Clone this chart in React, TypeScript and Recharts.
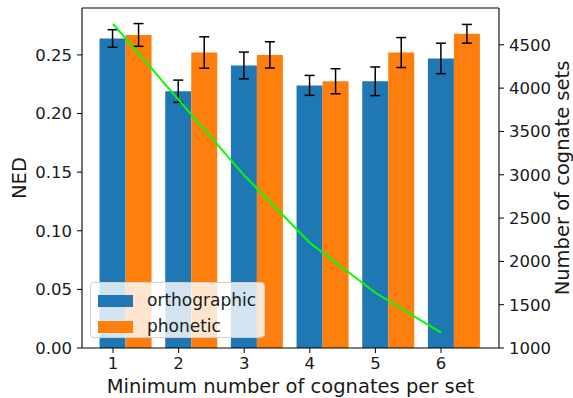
import React from 'react';
import {
  ComposedChart,
  Bar,
  Line,
  XAxis,
  YAxis,
  ErrorBar,
  Legend,
  ReferenceLine,
} from 'recharts';

// minimum number of cognates per set
const minCognates = [1, 2, 3, 4, 5, 6];
// mean NED and error, orthographic vs phonetic
const orthoNED = [0.264, 0.219, 0.241, 0.224, 0.2275, 0.247];
const orthoErr = [0.0075, 0.0095, 0.0114, 0.0085, 0.0122, 0.013];
const phonNED = [0.267, 0.252, 0.25, 0.2275, 0.252, 0.268];
const phonErr = [0.0097, 0.0134, 0.0112, 0.0107, 0.0128, 0.008];
// number of cognate sets (right axis)
const cognateSets = [4742, 3864, 2992, 2215, 1638, 1177];

const nedTicks = [0, 0.05, 0.1, 0.15, 0.2, 0.25];
const setTicks = [1000, 1500, 2000, 2500, 3000, 3500, 4000, 4500];

const series = [
  { key: 'ortho', name: 'orthographic', color: '#1f77b4' },
  { key: 'phon', name: 'phonetic', color: '#ff7f0e' },
];

const data = minCognates.map((x, i) => ({
  k: String(x),
  x,
  ortho: orthoNED[i],
  orthoErr: orthoErr[i],
  phon: phonNED[i],
  phonErr: phonErr[i],
  sets: cognateSets[i],
}));

const FONT = 'DejaVu Sans';
const tickStyle = { fontSize: 16.5, fill: '#1a1a1a', fontFamily: FONT };
const labelStyle = { fontSize: 19.5, fill: '#1a1a1a', fontFamily: FONT };

function LegendBox() {
  return (
    <div
      style={{
        width: 175,
        height: 56,
        boxSizing: 'border-box',
        background: 'rgba(255,255,255,0.8)',
        border: '1px solid #d0d0d0',
        borderRadius: 4,
        padding: '4px 0 0 7px',
        fontFamily: FONT,
        fontSize: 17,
        color: '#1a1a1a',
      }}
    >
      {series.map((s) => (
        <div key={s.key} style={{ display: 'flex', alignItems: 'center', height: 26 }}>
          <span style={{ width: 35, height: 12, background: s.color, marginRight: 14, marginTop: 2 }} />
          <span>{s.name}</span>
        </div>
      ))}
    </div>
  );
}

export default function App() {
  return (
    <div style={{ position: 'absolute', left: 0, top: 0, background: '#fff' }}>
      <ComposedChart
        width={573}
        height={398}
        data={data}
        margin={{ top: 8, right: 0, left: 0, bottom: 0 }}
        barCategoryGap="10%"
        barGap={0}
        style={{ fontFamily: FONT }}
      >
        <XAxis
          xAxisId="num"
          dataKey="x"
          type="number"
          domain={[0.527, 6.884]}
          allowDataOverflow
          ticks={minCognates}
          height={50}
          tickSize={5}
          tickMargin={4}
          tick={tickStyle}
          axisLine={{ stroke: '#000', strokeWidth: 1.1 }}
          tickLine={{ stroke: '#000' }}
          label={{
            value: 'Minimum number of cognates per set',
            position: 'insideBottom',
            offset: 5,
            style: labelStyle,
          }}
        />
        <XAxis
          xAxisId="cat"
          dataKey="k"
          type="category"
          orientation="top"
          height={0}
          hide
          padding={{ left: 11, right: 12 }}
        />
        <YAxis
          yAxisId="left"
          domain={[0, 0.29]}
          allowDataOverflow
          ticks={nedTicks}
          tickFormatter={(v) => v.toFixed(2)}
          width={82}
          tickSize={5}
          tickMargin={5}
          tick={tickStyle}
          axisLine={{ stroke: '#000', strokeWidth: 1.1 }}
          tickLine={{ stroke: '#000' }}
          label={{
            value: 'NED',
            angle: -90,
            position: 'insideLeft',
            offset: 19,
            style: { ...labelStyle, textAnchor: 'middle' },
          }}
        />
        <YAxis
          yAxisId="right"
          orientation="right"
          domain={[1000, 4925]}
          allowDataOverflow
          ticks={setTicks}
          width={74}
          tickSize={5}
          tickMargin={5}
          tick={tickStyle}
          axisLine={{ stroke: '#000', strokeWidth: 1.1 }}
          tickLine={{ stroke: '#000' }}
          label={{
            value: 'Number of cognate sets',
            angle: -90,
            position: 'insideRight',
            offset: 11,
            style: { ...labelStyle, textAnchor: 'middle' },
          }}
        />
        <ReferenceLine yAxisId="left" xAxisId="num" y={0.29} stroke="#000" strokeWidth={1.1} />
        {series.map((s) => (
          <Bar
            key={s.key}
            dataKey={s.key}
            name={s.name}
            xAxisId="cat"
            yAxisId="left"
            fill={s.color}
            isAnimationActive={false}
          >
            <ErrorBar dataKey={s.key + 'Err'} width={5} stroke="#000" strokeWidth={1.5} direction="y" />
          </Bar>
        ))}
        <Line
          dataKey="sets"
          xAxisId="num"
          yAxisId="right"
          type="linear"
          stroke="#00ff00"
          strokeWidth={2}
          dot={false}
          isAnimationActive={false}
        />
        <Legend
          layout="horizontal"
          verticalAlign="middle"
          content={() => <LegendBox />}
          wrapperStyle={{ position: 'absolute', left: 90, top: 282, width: 175, height: 56 }}
        />
      </ComposedChart>
    </div>
  );
}
